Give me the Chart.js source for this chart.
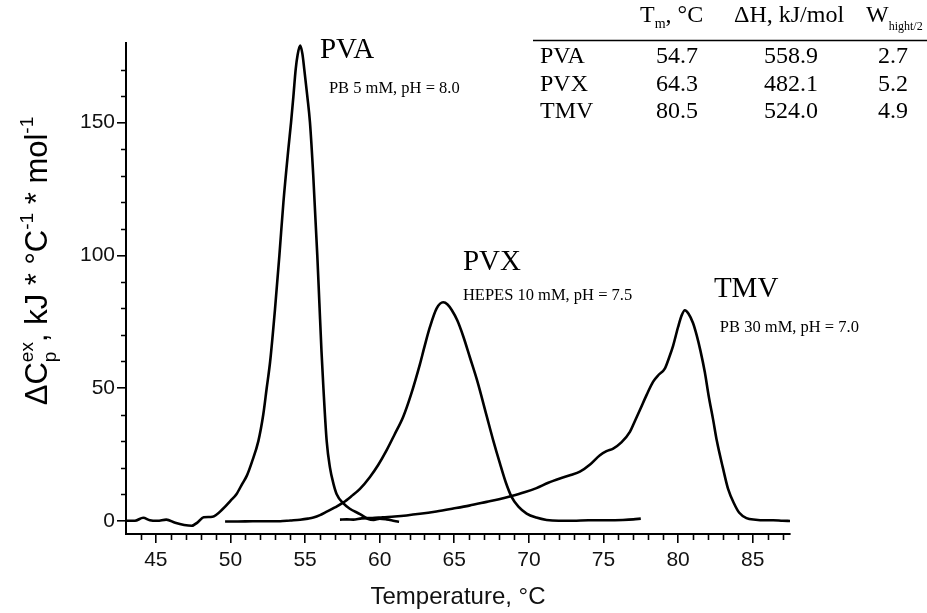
<!DOCTYPE html>
<html>
<head>
<meta charset="utf-8">
<script src="https://cdn.jsdelivr.net/npm/chart.js@4.4.0/dist/chart.umd.min.js"></script>
<style>
  html, body { margin: 0; padding: 0; background: #fff; }
  canvas { display: block; }
</style>
</head>
<body>
<canvas id="dsc" width="927" height="613"></canvas>
<script>
// excess heat capacity curves
let pvaT  = [43.0, 43.6, 44.15, 44.6, 45.1, 45.7, 46.3, 46.9, 47.4, 47.8, 48.2, 48.8, 49.5, 50.0, 50.4, 50.8, 51.1, 51.43, 51.87, 52.2, 52.43, 52.66, 52.99, 53.28, 53.55, 53.88, 54.06, 54.22, 54.37, 54.5, 54.67, 54.82, 54.95, 55.15, 55.33, 55.55, 55.82, 55.96, 56.1, 56.23, 56.45, 56.67, 56.9, 57.12, 57.57, 58.0, 58.68, 59.24, 59.6, 60.0, 60.47, 61.0, 61.3];
let pvaCp = [0.0, 0.0, 1.1, 0.2, 0.0, 0.4, -0.8, -1.6, -1.9, -0.6, 1.3, 1.5, 4.5, 7.5, 10.0, 14.0, 17.0, 22, 30, 40, 50, 60, 80, 100, 120, 140, 150, 160, 170, 175.5, 179, 176, 170, 160, 150, 130, 100, 82, 64, 50, 30, 20, 14, 10, 6.5, 4.5, 2.5, 0.6, 0.3, 0.8, 0.5, -0.1, -0.4];

let pvxT  = [49.64, 50.5, 51.5, 52.5, 53.33, 54.0, 54.67, 55.2, 55.56, 56.0, 56.45, 57.0, 57.57, 58.1, 58.68, 59.35, 59.9, 60.47, 61.0, 61.58, 62.1, 62.7, 63.0, 63.37, 63.82, 64.26, 64.55, 64.83, 65.2, 65.6, 66.05, 66.55, 67.17, 67.6, 68.06, 68.45, 68.84, 69.3, 69.85, 70.5, 71.19, 72.0, 72.97, 74.0, 75.2, 76.3, 77.0, 77.5];
let pvxCp = [-0.3, -0.3, -0.2, -0.2, -0.2, 0.1, 0.4, 0.8, 1.2, 2.1, 3.4, 5.0, 6.9, 9.2, 12.0, 16.5, 21.0, 26.6, 32.5, 39.2, 47.5, 59, 65.5, 73, 80, 82.3, 81.5, 79.4, 75.5, 69.5, 61.5, 52.5, 39.5, 30.5, 21.6, 14.5, 9.0, 5.3, 2.7, 1.2, 0.3, 0.0, 0.0, 0.2, 0.2, 0.3, 0.5, 0.8];

let tmvT  = [57.34, 57.8, 58.23, 58.8, 59.5, 60.2, 61.0, 61.8, 62.7, 63.8, 64.93, 66.0, 67.17, 68.0, 68.84, 69.7, 70.51, 71.3, 72.08, 72.8, 73.42, 74.1, 74.76, 75.2, 75.65, 76.2, 76.77, 77.1, 77.44, 77.9, 78.33, 78.7, 79.11, 79.4, 79.67, 80.0, 80.25, 80.45, 80.7, 81.0, 81.24, 81.5, 81.79, 82.05, 82.35, 82.6, 83.0, 83.35, 83.75, 84.1, 84.58, 85.2, 85.8, 86.37, 87.0, 87.5];
let tmvCp = [0.4, 0.5, 0.4, 0.9, 1.0, 1.3, 1.6, 2.0, 2.6, 3.5, 4.6, 5.7, 7.1, 8.1, 9.3, 10.7, 12.3, 14.3, 15.9, 17.2, 18.5, 21.2, 24.7, 26.2, 27.2, 29.5, 33.5, 37.5, 41.7, 47.5, 52.4, 55.0, 57.3, 61.5, 66, 73, 77.5, 79.3, 78, 74.5, 70, 64, 56, 47, 38, 30, 20, 12, 6.5, 3.0, 1.0, 0.4, 0.2, 0.2, 0.0, -0.1];

let xTicks = [45, 50, 55, 60, 65, 70, 75, 80, 85];
let yTicks = [0, 50, 100, 150];

// inset table
let samples = ['PVA', 'PVX', 'TMV'];
let buffers = ['PB 5 mM, pH = 8.0', 'HEPES 10 mM, pH = 7.5', 'PB 30 mM, pH = 7.0'];
let tmVals = [54.7, 64.3, 80.5];
let dhVals = [558.9, 482.1, 524.0];
let wVals  = [2.7, 5.2, 4.9];

let sans = '"Liberation Sans", Arial, sans-serif';
let serif = '"Liberation Serif", "Times New Roman", serif';

function pts(xs, ys) {
  return xs.map((x, i) => ({ x: x, y: ys[i] }));
}

function curve(label, xs, ys) {
  return {
    label: label,
    data: pts(xs, ys),
    borderColor: '#000',
    borderWidth: 2.6,
    pointRadius: 0,
    fill: false,
    showLine: true,
    tension: 0.4,
    cubicInterpolationMode: 'monotone'
  };
}

// label anchors in data units (left / baseline)
let nameAt = [[56.0, 174.5], [65.58, 94.5], [82.4, 84.3]];
let bufAt  = [[56.6, 161.3], [65.58, 83.2], [82.8, 71.1]];

let extras = {
  id: 'extras',
  afterDraw(chart) {
    let ctx = chart.ctx;
    let xs = chart.scales.x, ys = chart.scales.y;
    let area = chart.chartArea;
    ctx.save();
    ctx.strokeStyle = '#000';
    ctx.lineWidth = 1.6;
    // minor ticks
    ctx.beginPath();
    for (let v = 44; v <= 87; v++) {
      if (v % 5 === 0) continue;
      let px = Math.round(xs.getPixelForValue(v)) + 0.5;
      ctx.moveTo(px, area.bottom);
      ctx.lineTo(px, area.bottom + 6);
    }
    for (let v = 10; v <= 170; v += 10) {
      if (v % 50 === 0) continue;
      let py = Math.round(ys.getPixelForValue(v)) + 0.5;
      ctx.moveTo(area.left, py);
      ctx.lineTo(area.left - 5, py);
    }
    ctx.stroke();

    ctx.fillStyle = '#000';
    ctx.textAlign = 'left';
    ctx.textBaseline = 'alphabetic';

    // curve labels
    samples.forEach((s, i) => {
      ctx.font = '29px ' + serif;
      ctx.fillText(s, xs.getPixelForValue(nameAt[i][0]), ys.getPixelForValue(nameAt[i][1]));
      ctx.font = '16.5px ' + serif;
      ctx.fillText(buffers[i], xs.getPixelForValue(bufAt[i][0]), ys.getPixelForValue(bufAt[i][1]));
    });

    // y axis title with sub/superscripts
    let F = 31, f = 19;
    let big = F + 'px ' + sans, small = f + 'px ' + sans;
    let parts = [
      { t: 'ΔC', font: big, dy: 0 },
      { t: 'ex', font: small, dy: -F * 0.45, sub: 'p' },
      { t: ', kJ * °C', font: big, dy: 0 },
      { t: '-1', font: small, dy: -F * 0.45 },
      { t: ' * mol', font: big, dy: 0 },
      { t: '-1', font: small, dy: -F * 0.45 }
    ];
    let total = 0;
    parts.forEach(p => {
      ctx.font = p.font;
      p.w = ctx.measureText(p.t).width;
      if (p.sub) p.w = Math.max(p.w, ctx.measureText(p.sub).width);
      total += p.w;
    });
    ctx.translate(47, 261);
    ctx.rotate(-Math.PI / 2);
    let cx = -total / 2;
    parts.forEach(p => {
      ctx.font = p.font;
      ctx.fillText(p.t, cx, p.dy);
      if (p.sub) ctx.fillText(p.sub, cx, F * 0.28);
      cx += p.w;
    });
    ctx.restore();

    // inset table
    ctx.save();
    ctx.fillStyle = '#000';
    ctx.textBaseline = 'alphabetic';
    let hf = '24px ' + serif, sf = '14px ' + serif;
    ctx.textAlign = 'left';
    ctx.font = hf;
    ctx.fillText('T', 640, 22);
    let tx = 640 + ctx.measureText('T').width;
    ctx.font = sf;
    ctx.fillText('m', tx, 28);
    tx += ctx.measureText('m').width;
    ctx.font = hf;
    ctx.fillText(', °C', tx, 22);
    ctx.fillText('ΔH, kJ/mol', 734, 22);
    ctx.fillText('W', 866, 22);
    tx = 866 + ctx.measureText('W').width;
    ctx.font = '12px ' + serif;
    ctx.fillText('hight/2', tx, 30);

    ctx.strokeStyle = '#000';
    ctx.lineWidth = 1.5;
    ctx.beginPath();
    ctx.moveTo(533, 40.5);
    ctx.lineTo(927, 40.5);
    ctx.stroke();

    ctx.font = hf;
    samples.forEach((s, i) => {
      let y = 63 + i * 27.5;
      ctx.textAlign = 'left';
      ctx.fillText(s, 540, y);
      ctx.textAlign = 'center';
      ctx.fillText(tmVals[i].toFixed(1), 677, y);
      ctx.fillText(dhVals[i].toFixed(1), 791, y);
      ctx.fillText(wVals[i].toFixed(1), 893, y);
    });
    ctx.restore();
  }
};

let ctx = document.getElementById('dsc').getContext('2d');

let axisGrid = {
  drawOnChartArea: false,
  drawTicks: true,
  tickLength: 9,
  color: '#000',
  lineWidth: 1.6
};

let dscChart = new Chart(ctx, {
  type: 'scatter',
  data: {
    datasets: [
      curve('PVA', pvaT, pvaCp),
      curve('PVX', pvxT, pvxCp),
      curve('TMV', tmvT, tmvCp)
    ]
  },
  options: {
    responsive: false,
    animation: false,
    devicePixelRatio: 1,
    layout: { padding: { top: 43, right: 137, left: 0, bottom: 0 } },
    plugins: {
      legend: { display: false },
      tooltip: { enabled: false }
    },
    scales: {
      x: {
        type: 'linear',
        min: 43,
        max: 87.5,
        afterBuildTicks: (scale) => { scale.ticks = xTicks.map(v => ({ value: v })); },
        afterFit: (scale) => { scale.height = 79; },
        ticks: {
          color: '#111',
          font: { family: sans, size: 21 },
          padding: 5,
          maxRotation: 0
        },
        grid: axisGrid,
        border: { display: true, color: '#000', width: 2 },
        title: {
          display: true,
          text: 'Temperature, °C',
          color: '#111',
          font: { family: sans, size: 24 },
          padding: { top: 0, bottom: 1 }
        }
      },
      y: {
        type: 'linear',
        min: -5,
        max: 180,
        afterBuildTicks: (scale) => { scale.ticks = yTicks.map(v => ({ value: v })); },
        afterFit: (scale) => { scale.width = 126; },
        ticks: {
          color: '#111',
          font: { family: sans, size: 21 },
          padding: 2
        },
        grid: axisGrid,
        border: { display: true, color: '#000', width: 2 }
      }
    }
  },
  plugins: [extras]
});
</script>
</body>
</html>
